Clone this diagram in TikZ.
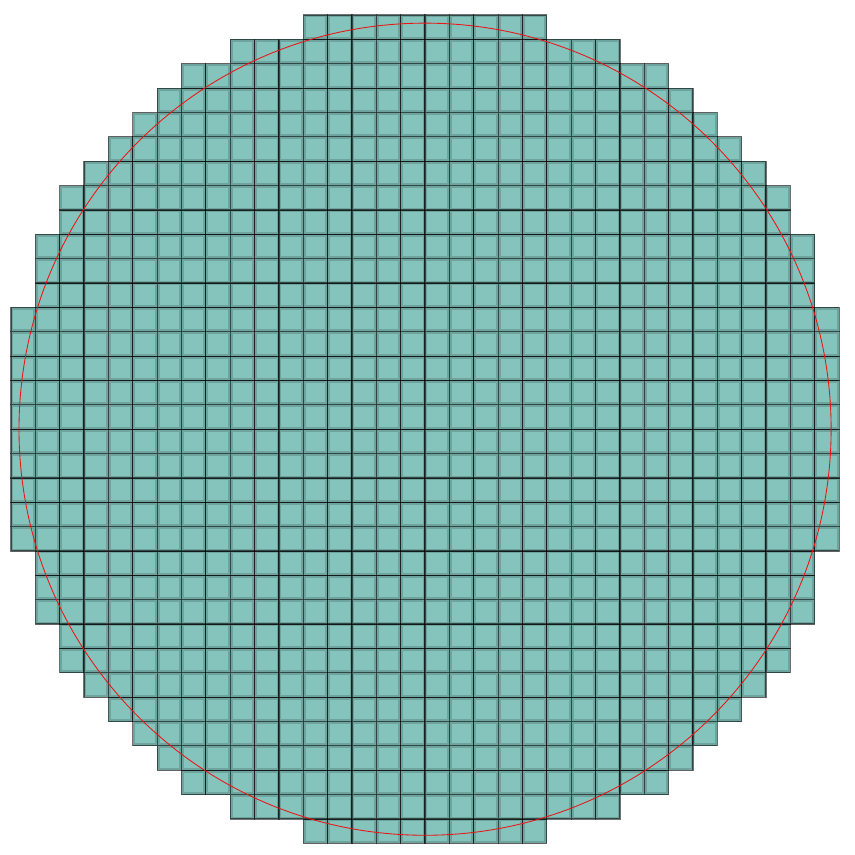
\documentclass[tikz,border=0pt]{standalone}
\usepackage{xcolor}
\usepackage{tikz}
\usetikzlibrary{calc}
\definecolor{cellteal}{RGB}{132,196,188}
\definecolor{ringred}{RGB}{235,20,20}

\begin{document}
\begin{tikzpicture}[
        x=0.5cm, y=0.5cm,
        cell/.style={fill=cellteal, draw=black, draw opacity=0.55, line width=0.7pt},
        cellshade/.style={draw=black, draw opacity=0.16, line width=2.8pt},
        ring/.style={draw=ringred, line width=0.5pt}
    ]
        \useasboundingbox (-17.45,-17.48) rectangle (17.65,17.62);
        % cells that touch the circle
        \foreach \i in {0,...,33}{
            \foreach \j in {0,...,33}{
                \pgfmathtruncatemacro\inside{(min(abs(\i-17),abs(\i-16))^2+min(abs(\j-17),abs(\j-16))^2<279)?1:0}
                \ifnum\inside=1
                    \begin{scope}
                        \clip (\i-17,\j-17) rectangle ++(1,1);
                        \fill[cellteal] (\i-17,\j-17) rectangle ++(1,1);
                        \draw[cellshade] (\i-17,\j-17) rectangle ++(1,1);
                    \end{scope}
                    \draw[cell, fill=none] (\i-17,\j-17) rectangle ++(1,1);
                \fi
            }
        }
        \draw[ring] (0,0) circle (16.67);
    \end{tikzpicture}
\end{document}
